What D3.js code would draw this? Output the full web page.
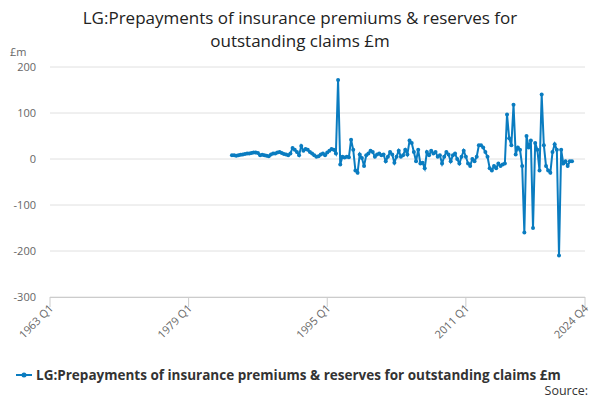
<!DOCTYPE html>
<html>
<head>
<meta charset="utf-8">
<script src="https://cdn.jsdelivr.net/npm/d3@7"></script>
<style>
  body { margin: 0; font-family: "Open Sans", sans-serif; }
  .grid line { stroke: #e0e0e0; }
  .axis text { fill: #666; font-size: 11px; }
</style>
</head>
<body>
<svg id="chart" width="600" height="400"></svg>
<script>
// series starts 1984 Q1
var startYear = 1984
var values = [8,8,7,8,9,10,11,12,12,13,14,14,13,8,9,8,7,6,10,12,12,14,15,13,11,10,8,12,24,20,15,8,28,18,22,20,15,12,8,5,6,10,12,8,14,18,22,20,12,
  172,-12,5,3,5,4,42,20,-25,-30,10,2,-15,8,12,18,15,5,10,12,8,10,-5,5,15,10,-8,5,18,5,8,20,10,40,35,15,-5,20,-10,-8,-20,15,8,18,12,15,5,8,-10,5,15,10,-5,8,12,0,-10,5,18,5,-10,-15,0,-5,5,30,30,25,15,5,-20,-25,-15,-20,-10,-15,-12,-10,
  97,45,30,118,10,25,20,-15,-160,50,25,40,-150,35,20,-25,140,30,-15,-25,-30,15,32,20,-210,20,-10,-5,-15,-5,-5]
var yTicks = [200,100,0,-100,-200,-300]
var xTickLabels = ["1963 Q1","1979 Q1","1995 Q1","2011 Q1","2024 Q4"]
var title = ["LG:Prepayments of insurance premiums & reserves for", "outstanding claims £m"]

function q2num(s) { var p = s.split(" Q"); return +p[0] + (+p[1] - 1) / 4 }
var data = values.map(function(v, i) { return { t: startYear + i / 4, v: v } })

var svg = d3.select("#chart")
var x = d3.scaleLinear().domain([1963, 2024.75]).range([50, 585])
var y = d3.scaleLinear().domain([-300, 200]).range([297, 67])

svg.append("g").selectAll("text").data(title).join("text")
  .attr("x", 300).attr("y", function(d, i) { return 24 + i * 23 })
  .attr("text-anchor", "middle").attr("font-size", 17).attr("fill", "#222").text(function(d) { return d })

svg.append("text").attr("x", 10).attr("y", 56).attr("font-size", 11).attr("fill", "#666").text("£m")

svg.append("g").attr("class", "grid").selectAll("line").data(yTicks).join("line")
  .attr("x1", 50).attr("x2", 585).attr("y1", y).attr("y2", y)

svg.append("g").attr("class", "axis").selectAll("text").data(yTicks).join("text")
  .attr("x", 36).attr("y", function(d) { return y(d) + 4 }).attr("text-anchor", "end").text(function(d) { return d })

svg.append("line").attr("x1", 50).attr("x2", 585).attr("y1", 297.5).attr("y2", 297.5).attr("stroke", "#ccc")
var xt = svg.append("g").attr("class", "axis").selectAll("g").data(xTickLabels).join("g")
  .attr("transform", function(d) { return "translate(" + x(q2num(d)) + ",297)" })
xt.append("line").attr("y2", 10).attr("stroke", "#ccc")
xt.append("text").attr("transform", "translate(4,12) rotate(-45)").attr("text-anchor", "end").text(function(d) { return d })

var color = "#0a7cc0"
svg.append("path").datum(data).attr("fill", "none").attr("stroke", color).attr("stroke-width", 2)
  .attr("d", d3.line().x(function(d) { return x(d.t) }).y(function(d) { return y(d.v) }))
svg.append("g").selectAll("circle").data(data).join("circle")
  .attr("cx", function(d) { return x(d.t) }).attr("cy", function(d) { return y(d.v) }).attr("r", 2).attr("fill", color)

var lg = svg.append("g").attr("transform", "translate(16,375)")
lg.append("line").attr("x1", 0).attr("x2", 16).attr("stroke", color).attr("stroke-width", 2)
lg.append("circle").attr("cx", 8).attr("r", 2.5).attr("fill", color)
lg.append("text").attr("x", 20).attr("y", 5).attr("font-size", 13.5).attr("font-weight", "bold").attr("fill", "#333")
  .text("LG:Prepayments of insurance premiums & reserves for outstanding claims £m")
svg.append("text").attr("x", 588).attr("y", 395).attr("text-anchor", "end").attr("font-size", 12.5).attr("fill", "#333").text("Source:")
</script>
</body>
</html>
